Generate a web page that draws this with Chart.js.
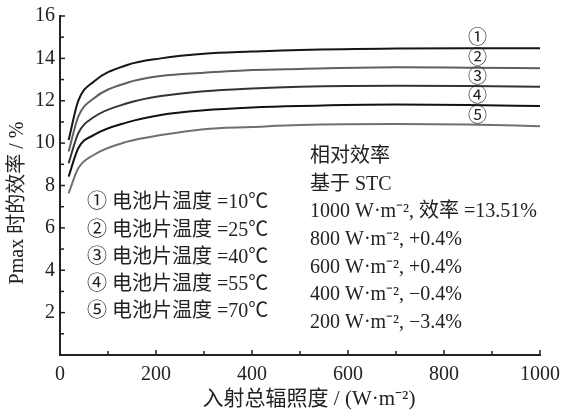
<!DOCTYPE html>
<html>
<head>
<meta charset="utf-8">
<script src="https://cdn.jsdelivr.net/npm/chart.js@4.4.1/dist/chart.umd.min.js"></script>
<style>
  html, body { margin: 0; padding: 0; background: #ffffff; }
  #wrap { width: 563px; height: 412px; position: relative; }
</style>
</head>
<body>
<div id="wrap"><canvas id="c" width="563" height="412"></canvas></div>
<script>
// Incident irradiance (W·m^-2)
const irradiance = [18, 38, 70, 140, 210, 300, 400, 500, 700, 850, 1000];

// Efficiency at Pmax (%) for each cell temperature
const eff10 = [10.15, 11.99, 12.90, 13.69, 14.00, 14.22, 14.32, 14.40, 14.47, 14.48, 14.48];
const eff25 = [9.60, 11.25, 12.11, 12.85, 13.17, 13.32, 13.45, 13.50, 13.58, 13.56, 13.53];
const eff40 = [9.05, 10.46, 11.22, 11.88, 12.22, 12.45, 12.58, 12.66, 12.71, 12.70, 12.66];
const eff55 = [8.42, 9.76, 10.38, 10.98, 11.33, 11.55, 11.68, 11.75, 11.82, 11.80, 11.75];
const eff70 = [7.63, 8.81, 9.44, 10.07, 10.38, 10.66, 10.76, 10.85, 10.90, 10.88, 10.80];

const curveMarks = ['①', '②', '③', '④', '⑤'];
const legendLines = [
  '① 电池片温度 =10℃',
  '② 电池片温度 =25℃',
  '③ 电池片温度 =40℃',
  '④ 电池片温度 =55℃',
  '⑤ 电池片温度 =70℃'
];
const noteLines = [
  '相对效率',
  '基于 STC',
  '1000 W·m⁻², 效率 =13.51%',
  '800 W·m⁻², +0.4%',
  '600 W·m⁻², +0.4%',
  '400 W·m⁻², −0.4%',
  '200 W·m⁻², −3.4%'
];
const xTitle = '入射总辐照度 / (W·m⁻²)';
const yTitle = 'Pmax 时的效率 / %';

const FONT = '"Liberation Serif", "Noto Sans CJK SC", serif';
const INK = '#222222';

const series = [eff10, eff25, eff40, eff55, eff70];
const colors = ['#151515', '#5f5f5f', '#333333', '#111111', '#707070'];

const datasets = series.map((s, i) => ({
  data: s.map((v, k) => ({ x: irradiance[k], y: v })),
  borderColor: colors[i],
  borderWidth: 2,
  pointRadius: 0,
  fill: false,
  cubicInterpolationMode: 'monotone'
}));

// Inward tick marks, curve numbers and free text
const decor = {
  id: 'decor',
  afterDraw(chart) {
    const ctx = chart.ctx;
    const xs = chart.scales.x, ys = chart.scales.y;
    const area = chart.chartArea;
    ctx.save();
    ctx.strokeStyle = INK;
    ctx.lineWidth = 1.5;
    // y ticks
    for (let v = 1; v <= 16; v++) {
      const py = ys.getPixelForValue(v);
      const len = v % 2 === 0 ? 5 : 4;
      ctx.beginPath();
      ctx.moveTo(area.left, py);
      ctx.lineTo(area.left + len, py);
      ctx.stroke();
    }
    // x ticks
    for (let v = 100; v <= 1000; v += 100) {
      const px = xs.getPixelForValue(v);
      const len = v % 200 === 0 ? 5 : 4;
      ctx.beginPath();
      ctx.moveTo(px, area.bottom);
      ctx.lineTo(px, area.bottom - len);
      ctx.stroke();
    }

    ctx.fillStyle = INK;
    // curve numbers above the right ends of the curves
    ctx.font = '19px ' + FONT;
    ctx.textAlign = 'center';
    ctx.textBaseline = 'middle';
    series.forEach((s, i) => {
      const px = xs.getPixelForValue(870);
      const py = ys.getPixelForValue(s[s.length - 1]) - 9;
      ctx.fillText(curveMarks[i], px, py);
    });

    // temperature legend
    ctx.font = '20px ' + FONT;
    ctx.textAlign = 'left';
    legendLines.forEach((t, i) => {
      ctx.fillText(t, 87, 203 + i * 27.3);
    });

    // relative efficiency notes
    noteLines.forEach((t, i) => {
      ctx.fillText(t, 310, 157 + i * 27.6);
    });

    // axis titles
    ctx.font = '21px ' + FONT;
    ctx.textAlign = 'center';
    ctx.fillText(xTitle, 309, 399);
    ctx.translate(18, 203);
    ctx.rotate(-Math.PI / 2);
    ctx.font = '20px ' + FONT;
    ctx.fillText(yTitle, 0, 0);
    ctx.restore();
  }
};

new Chart(document.getElementById('c'), {
  type: 'line',
  data: { datasets },
  options: {
    responsive: false,
    animation: false,
    layout: { padding: { top: 16, right: 23, left: 0, bottom: 0 } },
    plugins: { legend: { display: false }, tooltip: { enabled: false } },
    scales: {
      x: {
        type: 'linear',
        min: 0,
        max: 1000,
        afterFit(scale) {
          scale.height = 57;
          scale.paddingLeft = 0;
          scale.paddingRight = 0;
        },
        grid: { display: false, drawTicks: false },
        border: { display: true, color: INK, width: 2 },
        ticks: {
          stepSize: 200,
          padding: 8,
          color: INK,
          font: { family: FONT, size: 20 },
          maxRotation: 0,
          callback: (v) => String(v)
        }
      },
      y: {
        min: 0,
        max: 16,
        afterFit(scale) {
          scale.width = 60;
          scale.paddingTop = 0;
          scale.paddingBottom = 0;
        },
        grid: { display: false, drawTicks: false },
        border: { display: true, color: INK, width: 2 },
        ticks: {
          stepSize: 2,
          padding: 5,
          color: INK,
          font: { family: FONT, size: 20 },
          callback: (v) => (v === 0 ? '' : String(v))
        }
      }
    }
  },
  plugins: [decor]
});
</script>
</body>
</html>
